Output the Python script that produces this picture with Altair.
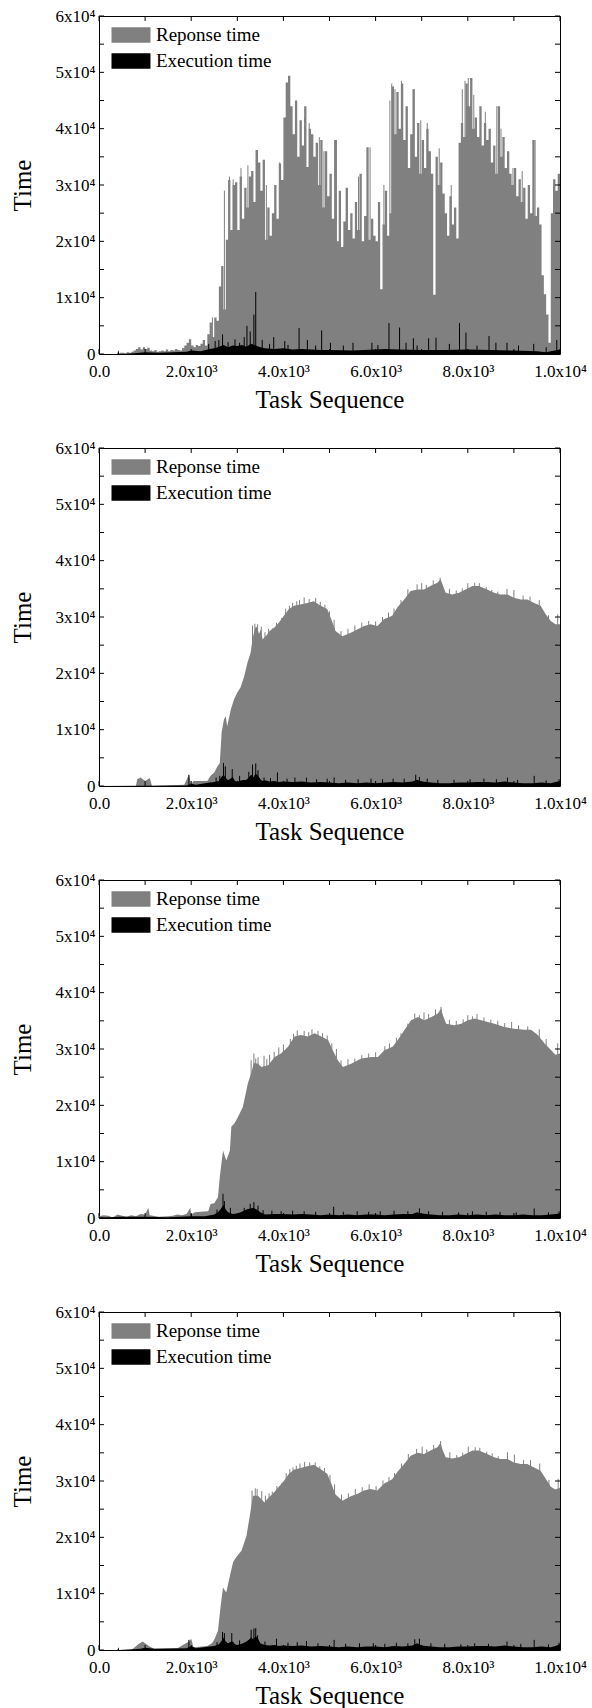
import altair as alt
import pandas as pd

W, H = 461, 338
FONT = "'Liberation Serif', 'Times New Roman', Times, 'DejaVu Serif', serif"
RESP = "Reponse time"
EXEC = "Execution time"
GRAY = "#808080"

# ---------------- Panel 1 (spiky) ----------------
p1_step = 50  # task-sequence spacing of the sampled response values
p1_resp = [
    0, 0, 0, 0, 0, 0, 0, 0, 100, 200,
    200, 100, 300, 200, 400, 600, 900, 1200, 800, 1200,
    900, 1100, 600, 500, 700, 400, 500, 600, 500, 800,
    500, 700, 600, 900, 700, 600, 1000, 1500, 2000, 2600,
    1500, 1200, 1600, 1400, 1800, 2500, 1500, 3500, 5600, 3000,
    6500, 5900, 12000, 15600, 7900, 20300, 30900, 22000, 30000, 30500,
    22000, 31500, 24000, 29500, 26000, 31500, 32500, 27000, 36200, 34000,
    29000, 34500, 20300, 26000, 21000, 25000, 30000, 24000, 33800, 30900,
    42000, 48200, 49400, 44000, 39000, 45000, 35000, 41500, 37000, 44000,
    33200, 40000, 39000, 35000, 37500, 30000, 38000, 26000, 36000, 28000,
    32000, 24000, 38000, 20000, 29000, 19000, 23500, 29500, 22000, 25000,
    20500, 27000, 22000, 32000, 20000, 24500, 36700, 20300, 24000, 21000,
    20000, 27000, 11500, 23000, 29000, 21000, 25000, 47500, 39000, 46500,
    40000, 48000, 38000, 44000, 33000, 39000, 47000, 35000, 41000, 32000,
    38000, 33000, 40000, 36000, 32000, 10500, 35000, 30000, 34000, 28500,
    25000, 21000, 28000, 23000, 26000, 20500, 37500, 41000, 38500, 48000,
    44000, 49000, 40000, 42000, 38500, 44000, 37000, 41000, 38000, 40000,
    34000, 37000, 32000, 44000, 35000, 38500, 33000, 36000, 32000, 30000,
    33000, 28000, 31000, 27000, 29500, 24000, 30000, 25000, 38000, 24500,
    26000, 23000, 14000, 10600, 7000, 2000, 25000, 31000, 29000, 32000,
]
p1_rspk_x = [2460, 2720, 2830, 2910, 3080, 3230, 3320, 3410, 3630, 3920, 4070, 4120, 4270,
             4460, 4560, 4780, 4880, 5150, 5380, 5630, 5880, 6180, 6310, 6350, 6420, 6560,
             6830, 6980, 7120, 7380, 7640, 7880, 7940, 8010, 8130, 8380, 8630, 8720, 8980,
             9180, 9460, 9860, 9970]
p1_rspk_y = [6500, 29000, 31500, 31000, 33000, 33500, 31000, 36200, 30000, 34000, 47000, 49000, 44500,
             42000, 41000, 38500, 36000, 38000, 28000, 31500, 36700, 30000, 45000, 48000, 47000, 48500,
             47000, 41500, 41000, 36500, 30000, 47000, 48500, 49000, 46000, 43000, 44000, 40000, 33000,
             32500, 38000, 30000, 31500]
p1_exec_x = [0, 400, 420, 440, 700, 1000, 1300, 1600, 1900, 2000, 2200, 2400, 2500, 2600,
             2700, 2800, 2900, 3000, 3100, 3200, 3300, 3400, 3500, 3600, 3800, 4000, 4200,
             4400, 4600, 4800, 5000, 5500, 6000, 6200, 6500, 7000, 7500, 8000, 8500, 9000,
             9500, 9700, 9800, 10000]
p1_exec_y = [0, 0, 700, 0, 100, 300, 200, 300, 400, 600, 500, 900, 1000, 1300,
             1600, 1200, 1500, 1400, 1600, 1300, 1800, 1500, 1200, 1000, 900, 1000, 800,
             900, 800, 700, 700, 600, 800, 900, 800, 700, 700, 800, 700, 600,
             500, 300, 500, 800]
p1_espk_x = [2380, 2520, 2600, 2680, 2800, 2950, 3050, 3150, 3210, 3280, 3360, 3400, 3540,
             3700, 3790, 4030, 4100, 4340, 4520, 4700, 4830, 5020, 5300, 5510, 5920, 6050,
             6290, 6520, 6660, 6820, 6900, 7150, 7310, 7600, 7820, 7960, 8200, 8460, 8610,
             8850, 9100, 9430, 9700, 9930]
p1_espk_y = [1800, 2300, 2500, 3500, 2100, 2600, 2000, 3000, 5000, 4000, 7000, 11000, 2500,
             1800, 3000, 2300, 1600, 4600, 2500, 1500, 4200, 2000, 1500, 2000, 2000, 1600,
             5500, 4700, 2000, 2800, 1500, 2800, 2900, 1800, 5500, 3800, 1500, 3200, 2000,
             2000, 1500, 1800, 1200, 2500]

# ---------------- Panel 2 ----------------
p2_resp_x = [0, 800, 830, 900, 1000, 1100, 1150, 1850, 1950, 2000, 2050, 2350, 2420, 2500, 2570,
             2620, 2660, 2710, 2750, 2780, 2860, 2930, 3000, 3070, 3150, 3220, 3290, 3330, 3360,
             3400, 3430, 3470, 3510, 3550, 3580, 3650, 3700, 3800, 3900, 4010, 4120, 4230, 4370,
             4520, 4660, 4810, 4950, 5040, 5130, 5280, 5460, 5600, 5750, 5890, 6040, 6180, 6360,
             6470, 6620, 6760, 6910, 7050, 7190, 7340, 7410, 7450, 7520, 7660, 7810, 7950, 8100,
             8240, 8420, 8570, 8710, 8860, 9000, 9150, 9290, 9440, 9580, 9690, 9800, 9900, 10000]
p2_resp_y = [0, 0, 1200, 1500, 900, 1400, 0, 200, 2000, 300, 900, 900, 1800, 2400, 3500,
             4100, 9500, 11800, 12400, 10600, 13600, 15400, 16600, 17500, 19500, 21900, 23700, 26000, 27200,
             28300, 28100, 27000, 27800, 26000, 26300, 26900, 27500, 28100, 29000, 30200, 31400, 32000, 32200,
             32500, 32800, 32000, 31400, 29600, 27500, 26600, 27200, 27800, 28400, 28700, 28400, 29600, 30200,
             31700, 33100, 34600, 34900, 34900, 35500, 36100, 36700, 35800, 34300, 34000, 34300, 34900, 35500,
             35500, 34900, 34300, 34000, 34000, 33400, 33100, 33100, 32500, 32000, 30500, 29300, 28700, 28700]
p2_rspk_x = [3330, 3380, 3440, 3520, 3600, 3680, 3760, 3850, 3960, 4050, 4130, 4200, 4290, 4350,
             4450, 4560, 4700, 4800, 4900, 5000, 5100, 5250, 5400, 5550, 5700, 5850, 6000, 6150,
             6280, 6400, 6550, 6700, 6900, 7000, 7100, 7250, 7400, 7600, 7750, 7880, 8000, 8150,
             8250, 8400, 8520, 8650, 8850, 9000, 9200, 9350, 9550, 9750, 9950]
p2_rspk_y = [28500, 28800, 28700, 28300, 27300, 27900, 28000, 29000, 29800, 31500, 32000, 32500,
             32800, 33000, 33500, 33200, 33400, 32700, 32200, 31000, 29500, 27500, 27900, 28500,
             29000, 29300, 29200, 30000, 30800, 31500, 33000, 34900, 35800, 36000, 35700, 36500,
             37000, 35000, 34700, 35100, 36000, 36100, 36000, 35300, 34800, 34500, 35000, 34800,
             33800, 33600, 33000, 30300, 30500]
p2_exec_x = [0, 1900, 2000, 2100, 2400, 2500, 2600, 2650, 2700, 2750, 2800, 2850, 2900, 2950,
             3000, 3100, 3200, 3250, 3300, 3350, 3400, 3450, 3500, 3550, 3600, 3700, 3800, 3900,
             4000, 4200, 4400, 4600, 4800, 5000, 5200, 5400, 5600, 5800, 6000, 6200, 6400, 6600,
             6800, 6900, 7000, 7200, 7400, 7600, 7800, 8000, 8200, 8400, 8600, 8800, 9000, 9200,
             9400, 9600, 9800, 9900, 10000]
p2_exec_y = [0, 100, 400, 200, 600, 700, 900, 1500, 2000, 1400, 1000, 1300, 1600, 900,
             800, 1000, 1100, 1500, 2000, 1600, 2200, 1800, 1200, 900, 1000, 800, 900, 700,
             800, 700, 800, 600, 700, 600, 500, 600, 500, 600, 500, 600, 700, 600,
             800, 1100, 800, 600, 500, 500, 600, 600, 700, 700, 600, 800, 600, 500,
             500, 600, 500, 700, 900]
p2_espk_x = [1950, 2540, 2620, 2700, 2740, 2890, 3050, 3250, 3330, 3400, 3450, 3580, 3720, 3870,
             4080, 4250, 4500, 4720, 4950, 5100, 5350, 5620, 5900, 6150, 6380, 6620, 6870, 6950,
             7120, 7350, 7700, 8050, 8350, 8620, 8860, 9080, 9440, 9700, 9980]
p2_espk_y = [2000, 1500, 1800, 4100, 3500, 3000, 1800, 2500, 3800, 4000, 2800, 1500, 1400, 2400,
             1300, 1500, 1500, 1200, 1300, 1500, 1100, 1200, 1300, 1200, 1300, 1300, 2000, 1600,
             1300, 1100, 1100, 1200, 1300, 1200, 1500, 1100, 1800, 1000, 1200]

# ---------------- Panel 3 ----------------
p3_resp_x = [0, 100, 200, 300, 400, 500, 600, 700, 800, 900, 1000, 1070, 1100, 1300, 1500, 1600,
             1700, 1800, 1900, 1980, 2000, 2080, 2200, 2370, 2420, 2500, 2580, 2620, 2690, 2760,
             2840, 2870, 2940, 3000, 3120, 3230, 3300, 3360, 3450, 3520, 3670, 3810, 3950, 4100,
             4240, 4380, 4530, 4680, 4820, 4970, 5070, 5180, 5290, 5470, 5690, 5910, 6050, 6190,
             6370, 6480, 6630, 6770, 6920, 7060, 7210, 7350, 7420, 7460, 7530, 7710, 7860, 8000,
             8150, 8290, 8430, 8580, 8790, 9010, 9230, 9370, 9520, 9660, 9810, 9900, 10000]
p3_resp_y = [300, 500, 400, 100, 600, 400, 200, 500, 300, 700, 600, 1800, 500, 200, 300, 400,
             600, 500, 700, 1800, 600, 1000, 1100, 1200, 2500, 2600, 3700, 7300, 12000, 10200,
             12000, 16200, 16800, 17700, 19700, 23900, 25700, 27500, 27400, 26800, 27100, 28600, 29200, 30400,
             32200, 32500, 32200, 32800, 32200, 31600, 29800, 28000, 26800, 27400, 28300, 28600, 28600, 29800,
             30400, 31600, 33400, 35100, 35700, 35100, 35700, 36300, 37200, 36000, 34500, 34200, 34500, 35100,
             35400, 35100, 34800, 34500, 33900, 33600, 33400, 33400, 32500, 31000, 29800, 29000, 29200]
p3_rspk_x = [3300, 3360, 3400, 3450, 3580, 3640, 3700, 3800, 3900, 4000, 4150, 4220, 4300, 4450,
             4550, 4620, 4750, 4850, 4950, 5050, 5150, 5250, 5400, 5550, 5700, 5850, 6000, 6200,
             6300, 6450, 6550, 6700, 6850, 6950, 7050, 7150, 7300, 7420, 7600, 7750, 7900, 8000,
             8100, 8200, 8350, 8500, 8650, 8800, 8950, 9100, 9300, 9550, 9700, 9950]
p3_rspk_y = [28000, 29200, 28300, 28500, 28800, 28200, 29000, 29500, 30300, 30800, 31800, 32700,
             33300, 33200, 33000, 33500, 33200, 32800, 32400, 31000, 30000, 28000, 28200, 28300,
             28900, 29200, 29400, 30500, 31000, 32000, 32800, 34500, 36300, 36000, 36500, 36200,
             37000, 37500, 35200, 35000, 35300, 36000, 35800, 36200, 35600, 35200, 35000, 34600,
             34800, 34200, 34000, 33500, 31800, 31000]
p3_exec_x = [0, 500, 1000, 1500, 2000, 2300, 2500, 2580, 2640, 2700, 2750, 2800, 2900, 3000,
             3100, 3200, 3280, 3350, 3420, 3500, 3600, 3800, 4000, 4200, 4400, 4600, 4800, 5000,
             5200, 5400, 5600, 5800, 6000, 6200, 6400, 6600, 6800, 6900, 7000, 7200, 7400, 7600,
             7800, 8000, 8200, 8400, 8600, 8800, 9000, 9200, 9400, 9600, 9800, 10000]
p3_exec_y = [100, 200, 200, 150, 300, 300, 600, 1000, 1600, 2300, 1500, 1000, 700, 800,
             1100, 1500, 1700, 1800, 1500, 1000, 600, 700, 700, 600, 700, 600, 500, 600,
             500, 600, 500, 600, 600, 500, 600, 700, 700, 1000, 800, 600, 500, 500,
             600, 500, 600, 500, 600, 500, 500, 600, 500, 500, 600, 800]
p3_espk_x = [2000, 2560, 2690, 2720, 2850, 3150, 3280, 3360, 3450, 3560, 3750, 3950, 4200, 4450,
             4700, 5090, 5300, 5600, 5850, 6100, 6400, 6700, 6950, 7150, 7450, 7800, 8100, 8400,
             8700, 9050, 9440, 9750, 9980]
p3_espk_y = [700, 1500, 4300, 3000, 1800, 1800, 2500, 2800, 2200, 1400, 1300, 1200, 1300, 1200,
             1100, 2000, 1100, 1200, 1100, 1200, 1300, 1200, 1700, 1200, 1100, 1000, 1200, 1100,
             1100, 1000, 1700, 1000, 1200]

# ---------------- Panel 4 ----------------
p4_resp_x = [0, 700, 750, 850, 950, 1000, 1100, 1200, 1700, 1950, 2000, 2050, 2350, 2450, 2510,
             2580, 2640, 2690, 2760, 2840, 2910, 2980, 3090, 3200, 3270, 3340, 3450, 3590, 3650,
             3800, 3900, 4010, 4120, 4230, 4370, 4520, 4660, 4810, 4950, 5040, 5130, 5280, 5460,
             5600, 5750, 5890, 6040, 6180, 6360, 6470, 6620, 6760, 6910, 7050, 7190, 7340, 7410,
             7450, 7520, 7660, 7810, 7950, 8100, 8240, 8420, 8570, 8710, 8860, 9000, 9150, 9290,
             9440, 9580, 9690, 9800, 9900, 10000]
p4_resp_y = [0, 0, 300, 1000, 1500, 1200, 600, 200, 300, 1500, 2000, 500, 700, 1200, 2000,
             3400, 7900, 11100, 10200, 13200, 15600, 16500, 17600, 20300, 23800, 27400, 27400, 26200, 26800,
             28000, 29000, 30000, 31300, 32000, 32300, 32600, 32900, 32100, 31300, 29500, 27600, 26500, 27300,
             27700, 28300, 28600, 28300, 29500, 30300, 31600, 33000, 34500, 35000, 34800, 35400, 36000, 36800,
             35600, 34200, 34000, 34200, 34800, 35400, 35400, 34800, 34200, 33900, 33900, 33300, 33000, 33000,
             32400, 31800, 30400, 29000, 28500, 28800]
p4_rspk_x = [3320, 3390, 3430, 3530, 3610, 3690, 3760, 3860, 3970, 4060, 4140, 4210, 4280, 4360,
             4460, 4570, 4690, 4790, 4890, 5010, 5110, 5260, 5410, 5560, 5710, 5860, 6010, 6160,
             6290, 6410, 6560, 6710, 6890, 7010, 7110, 7260, 7410, 7610, 7760, 7890, 8010, 8160,
             8260, 8410, 8530, 8660, 8860, 9010, 9210, 9360, 9560, 9760, 9960]
p4_rspk_y = [28300, 28700, 28600, 28200, 27400, 27800, 28100, 29100, 29700, 31400, 32100, 32400,
             32700, 33100, 33400, 33300, 33300, 32600, 32300, 31100, 29400, 27600, 27800, 28600,
             28900, 29400, 29100, 30100, 30700, 31400, 33100, 34800, 35700, 36100, 35600, 36400,
             37100, 35100, 34600, 35000, 36100, 36000, 35900, 35200, 34900, 34400, 35100, 34700,
             33700, 33700, 33100, 30200, 30400]
p4_exec_x = [0, 400, 420, 440, 900, 1000, 1200, 1900, 2000, 2100, 2400, 2500, 2600, 2650, 2700,
             2750, 2800, 2850, 2900, 2950, 3000, 3100, 3200, 3250, 3300, 3350, 3400, 3450, 3500,
             3550, 3600, 3700, 3800, 3900, 4000, 4200, 4400, 4600, 4800, 5000, 5200, 5400, 5600,
             5800, 6000, 6200, 6400, 6600, 6800, 6900, 7000, 7200, 7400, 7600, 7800, 8000, 8200,
             8400, 8600, 8800, 9000, 9200, 9400, 9600, 9800, 9900, 10000]
p4_exec_y = [0, 0, 500, 0, 200, 400, 200, 300, 700, 300, 600, 700, 1000, 1500, 2200,
             1500, 1200, 1400, 1500, 1000, 900, 1100, 1500, 1800, 2200, 1900, 2500, 2000, 1200,
             1000, 900, 800, 900, 700, 800, 700, 800, 600, 700, 600, 500, 600, 500,
             600, 600, 500, 700, 600, 800, 1200, 800, 600, 500, 500, 600, 600, 700,
             700, 600, 800, 600, 500, 500, 600, 500, 700, 1000]
p4_espk_x = [1950, 2560, 2680, 2720, 2880, 3050, 3300, 3360, 3400, 3440, 3600, 3850, 4100, 4300,
             4500, 4750, 5100, 5350, 5650, 5950, 6200, 6450, 6700, 6850, 6950, 7200, 7500, 7850,
             8150, 8450, 8850, 9150, 9440, 9750, 9980]
p4_espk_y = [1800, 1400, 3200, 3000, 3000, 1700, 3600, 3800, 3900, 2600, 1500, 2000, 1300, 1400,
             1600, 1200, 1800, 1100, 1200, 1200, 1100, 1300, 1200, 1900, 2000, 1200, 1100, 1000,
             1200, 1100, 1500, 1100, 1800, 1000, 1300]

x_ticks = list(range(0, 10001, 1000))
y_ticks = list(range(0, 60001, 5000))
x_label_values = [0, 2000, 4000, 6000, 8000, 10000]
y_label_values = [0, 10000, 20000, 30000, 40000, 50000, 60000]

XSCALE = alt.Scale(domain=[0, 10000], nice=False, zero=False)
YSCALE = alt.Scale(domain=[0, 60000], nice=False)

AXIS_X = alt.Axis(
    values=x_label_values, title="Task Sequence", labelFlush=False, labelOverlap=False,
    labelPadding=9, titlePadding=8,
    labelExpr="datum.value == 0 ? '0.0' : (datum.value >= 10000 ? '1.0x10\u2074' : format(datum.value/1000, '.1f') + 'x10\u00b3')",
)
AXIS_Y = alt.Axis(
    values=y_label_values, title="Time", labelFlush=False, labelOverlap=False,
    labelPadding=4, titlePadding=20,
    labelExpr="datum.value == 0 ? '0' : format(datum.value/10000, 'd') + 'x10\u2074'",
)


def X(field):
    return alt.X(field, type="quantitative", scale=XSCALE, axis=AXIS_X)


def Y(field):
    return alt.Y(field, type="quantitative", scale=YSCALE, axis=AXIS_Y)


COLOR = alt.Color(
    "s:N",
    scale=alt.Scale(domain=[RESP, EXEC], range=[GRAY, "#000000"]),
    legend=alt.Legend(
        title=None, orient="none", legendX=22, legendY=9,
        symbolType="M-2,-0.8H2V0.8H-2Z", symbolSize=380, symbolStrokeWidth=0,
        symbolOpacity=1, labelFont=FONT, labelFontSize=19, labelColor="black",
        labelOffset=15, rowPadding=6, padding=0, labelLimit=300,
    ),
)


def panel(resp_df, resp_interp, rspk_x, rspk_y, ex_x, ex_y, espk_x, espk_y):
    ex_df = pd.DataFrame({"x": ex_x, "y": ex_y, "s": EXEC})
    rspk = pd.DataFrame({"x": rspk_x, "y": rspk_y, "y0": 0})
    espk = pd.DataFrame({"x": espk_x, "y": espk_y, "y0": 0})
    xt = pd.DataFrame({"t": x_ticks})
    yt = pd.DataFrame({"t": y_ticks})

    resp_area = alt.Chart(resp_df).mark_area(interpolate=resp_interp, opacity=1).encode(
        x=X("x"), y=Y("y"), color=COLOR)
    resp_spk = alt.Chart(rspk).mark_rule(color=GRAY, strokeWidth=1).encode(
        x=X("x"), y=Y("y0"), y2="y")
    exec_area = alt.Chart(ex_df).mark_area(interpolate="linear", opacity=1).encode(
        x=X("x"), y=Y("y"), color=COLOR)
    exec_spk = alt.Chart(espk).mark_rule(color="#000000", strokeWidth=1).encode(
        x=X("x"), y=Y("y0"), y2="y")
    tb = alt.Chart(xt).mark_rule(color="black").encode(
        x=X("t"), y=alt.value(H), y2=alt.value(H - 5))
    tt = alt.Chart(xt).mark_rule(color="black").encode(
        x=X("t"), y=alt.value(0), y2=alt.value(5))
    tl = alt.Chart(yt).mark_rule(color="black").encode(
        y=Y("t"), x=alt.value(0), x2=alt.value(5))
    tr = alt.Chart(yt).mark_rule(color="black").encode(
        y=Y("t"), x=alt.value(W), x2=alt.value(W - 5))
    return alt.layer(resp_area, resp_spk, exec_area, exec_spk, tb, tt, tl, tr).properties(
        width=W, height=H)


p1_x = [i * p1_step for i in range(len(p1_resp))] + [10000]
p1_df = pd.DataFrame({"x": p1_x, "y": p1_resp + [p1_resp[-1]], "s": RESP})
p2_df = pd.DataFrame({"x": p2_resp_x, "y": p2_resp_y, "s": RESP})
p3_df = pd.DataFrame({"x": p3_resp_x, "y": p3_resp_y, "s": RESP})
p4_df = pd.DataFrame({"x": p4_resp_x, "y": p4_resp_y, "s": RESP})

c1 = panel(p1_df, "step-after", p1_rspk_x, p1_rspk_y, p1_exec_x, p1_exec_y, p1_espk_x, p1_espk_y)
c2 = panel(p2_df, "linear", p2_rspk_x, p2_rspk_y, p2_exec_x, p2_exec_y, p2_espk_x, p2_espk_y)
c3 = panel(p3_df, "linear", p3_rspk_x, p3_rspk_y, p3_exec_x, p3_exec_y, p3_espk_x, p3_espk_y)
c4 = panel(p4_df, "linear", p4_rspk_x, p4_rspk_y, p4_exec_x, p4_exec_y, p4_espk_x, p4_espk_y)

chart = (
    alt.vconcat(c1, c2, c3, c4, spacing=25)
    .resolve_scale(color="independent")
    .resolve_legend(color="independent")
    .properties(padding={"left": 9, "top": 6, "right": 5, "bottom": 1}, background="white")
    .configure_view(stroke="black", strokeWidth=1)
    .configure_axis(
        grid=False, domain=False, ticks=False,
        labelFont=FONT, labelFontSize=17, labelColor="black",
        titleFont=FONT, titleFontSize=25, titleFontWeight="normal", titleColor="black",
    )
)

chart.save("out.html", embed_options={"renderer": "svg", "actions": False})
